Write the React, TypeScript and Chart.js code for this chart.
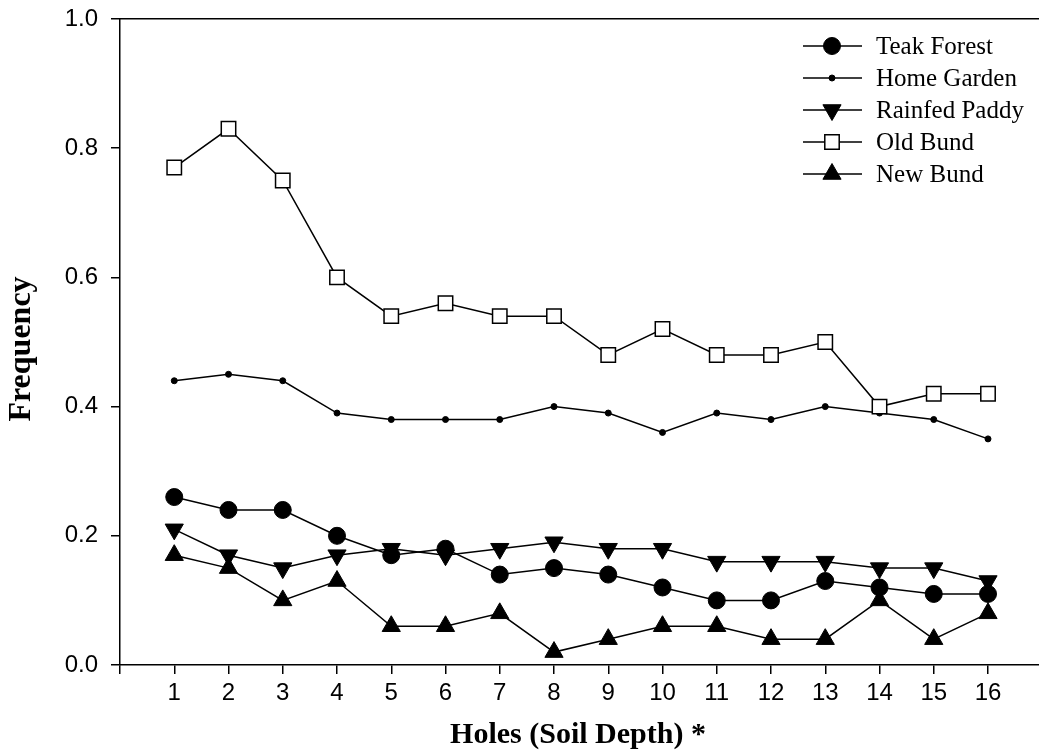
import React, { useEffect, useRef } from 'react';
import { Chart, registerables } from 'chart.js';
import { drawPoint } from 'chart.js/helpers';

Chart.register(...registerables);

// ---- data ----
const holes = [1, 2, 3, 4, 5, 6, 7, 8, 9, 10, 11, 12, 13, 14, 15, 16];
const teakForest = [0.26, 0.24, 0.24, 0.20, 0.17, 0.18, 0.14, 0.15, 0.14, 0.12, 0.10, 0.10, 0.13, 0.12, 0.11, 0.11];
const homeGarden = [0.44, 0.45, 0.44, 0.39, 0.38, 0.38, 0.38, 0.40, 0.39, 0.36, 0.39, 0.38, 0.40, 0.39, 0.38, 0.35];
const rainfedPaddy = [0.21, 0.17, 0.15, 0.17, 0.18, 0.17, 0.18, 0.19, 0.18, 0.18, 0.16, 0.16, 0.16, 0.15, 0.15, 0.13];
const oldBund = [0.77, 0.83, 0.75, 0.60, 0.54, 0.56, 0.54, 0.54, 0.48, 0.52, 0.48, 0.48, 0.50, 0.40, 0.42, 0.42];
const newBund = [0.17, 0.15, 0.10, 0.13, 0.06, 0.06, 0.08, 0.02, 0.04, 0.06, 0.06, 0.04, 0.04, 0.10, 0.04, 0.08];
const seriesNames = ['Teak Forest', 'Home Garden', 'Rainfed Paddy', 'Old Bund', 'New Bund'];
const xTickValues = [0, 1, 2, 3, 4, 5, 6, 7, 8, 9, 10, 11, 12, 13, 14, 15, 16];
const xTitle = 'Holes (Soil Depth) *';
const yTitle = 'Frequency';

const seriesValues = [teakForest, homeGarden, rainfedPaddy, oldBund, newBund];

const markerStyles = [
  { pointStyle: 'circle', rotation: 0, radius: 8.5, bg: '#000', bw: 1 },
  { pointStyle: 'circle', rotation: 0, radius: 3, bg: '#000', bw: 1 },
  { pointStyle: 'triangle', rotation: 180, radius: 10.5, bg: '#000', bw: 1 },
  { pointStyle: 'rect', rotation: 0, radius: 10.2, bg: '#fff', bw: 1.5 },
  { pointStyle: 'triangle', rotation: 0, radius: 10.5, bg: '#000', bw: 1 },
];

const SANS = '"Liberation Sans", Arial, sans-serif';
const SERIF = '"Liberation Serif", "Times New Roman", serif';

const zeroPad = (scale: any) => {
  scale.paddingLeft = 0;
  scale.paddingRight = 0;
  scale.paddingTop = 0;
  scale.paddingBottom = 0;
};

const textPlugin = {
  id: 'textPlugin',
  afterDraw(chart: any) {
    const ctx = chart.ctx as CanvasRenderingContext2D;
    ctx.save();
    ctx.fillStyle = '#000';
    // x title
    ctx.font = `bold 30px ${SERIF}`;
    ctx.textAlign = 'center';
    ctx.textBaseline = 'middle';
    ctx.fillText(xTitle, 578, 735);
    // y title
    ctx.save();
    ctx.translate(22, 349);
    ctx.rotate(-Math.PI / 2);
    ctx.font = `bold 32px ${SERIF}`;
    ctx.fillText(yTitle, 0, 0);
    ctx.restore();
    // legend
    ctx.font = `25px ${SERIF}`;
    ctx.textAlign = 'left';
    ctx.textBaseline = 'middle';
    seriesNames.forEach((name, i) => {
      const y = 46 + 32 * i;
      ctx.strokeStyle = '#000';
      ctx.lineWidth = 1.5;
      ctx.beginPath();
      ctx.moveTo(803, y);
      ctx.lineTo(862, y);
      ctx.stroke();
      const m = markerStyles[i];
      ctx.fillStyle = m.bg;
      ctx.strokeStyle = '#000';
      ctx.lineWidth = m.bw;
      drawPoint(ctx, { pointStyle: m.pointStyle as any, rotation: m.rotation, radius: m.radius, borderWidth: m.bw }, 832, y);
      ctx.fillStyle = '#000';
      ctx.fillText(name, 876, y + 1);
    });
    ctx.restore();
  },
};

export default function App() {
  const ref = useRef<HTMLCanvasElement>(null);
  useEffect(() => {
    if (!ref.current) return;
    const datasets = seriesValues.map((vals, i) => {
      const m = markerStyles[i];
      return {
        label: seriesNames[i],
        data: holes.map((h, j) => ({ x: h, y: vals[j] })),
        borderColor: '#000',
        borderWidth: 1.5,
        backgroundColor: m.bg,
        pointStyle: m.pointStyle as any,
        rotation: m.rotation,
        pointRadius: m.radius,
        pointBackgroundColor: m.bg,
        pointBorderColor: '#000',
        pointBorderWidth: m.bw,
        tension: 0,
        fill: false,
        order: 4 - i,
        clip: false as any,
      };
    });
    const chart = new Chart(ref.current, {
      type: 'line',
      data: { datasets },
      plugins: [textPlugin],
      options: {
        responsive: false,
        animation: false,
        devicePixelRatio: 1,
        layout: { autoPadding: false, padding: { top: 19, left: 0, right: 0, bottom: 0 } },
        plugins: { legend: { display: false }, tooltip: { enabled: false } },
        scales: {
          x: {
            type: 'linear',
            position: 'bottom',
            min: 0,
            max: 16.94,
            afterBuildTicks: (scale: any) => {
              scale.ticks = xTickValues.map((v) => ({ value: v }));
            },
            afterFit: (scale: any) => {
              scale.height = 89;
              zeroPad(scale);
            },
            ticks: {
              autoSkip: false,
              maxRotation: 0,
              padding: 5,
              color: '#000',
              font: { family: SANS, size: 24 },
              callback: (v: any) => (v === 0 ? '' : String(v)),
            },
            grid: { display: true, drawOnChartArea: false, drawTicks: true, tickLength: 9, color: '#000', lineWidth: 1.5 },
            border: { display: true, color: '#000', width: 1.5 },
          },
          x2: {
            type: 'linear',
            position: 'top',
            min: 0,
            max: 1,
            afterFit: (scale: any) => {
              scale.height = 0;
              zeroPad(scale);
            },
            ticks: { display: false },
            grid: { display: false },
            border: { display: true, color: '#000', width: 1.5 },
          },
          y: {
            type: 'linear',
            position: 'left',
            min: 0,
            max: 1,
            afterFit: (scale: any) => {
              scale.width = 120;
              zeroPad(scale);
            },
            ticks: {
              stepSize: 0.2,
              padding: 13,
              color: '#000',
              font: { family: SANS, size: 24 },
              callback: (v: any) => Number(v).toFixed(1),
            },
            grid: { display: true, drawOnChartArea: false, drawTicks: true, tickLength: 9, color: '#000', lineWidth: 1.5 },
            border: { display: true, color: '#000', width: 1.5 },
          },
        },
      } as any,
    });
    return () => chart.destroy();
  }, []);
  return (
    <div style={{ position: 'absolute', left: 0, top: 0, width: 1039, height: 754, background: '#fff' }}>
      <canvas ref={ref} width={1039} height={754} style={{ display: 'block' }} />
    </div>
  );
}
